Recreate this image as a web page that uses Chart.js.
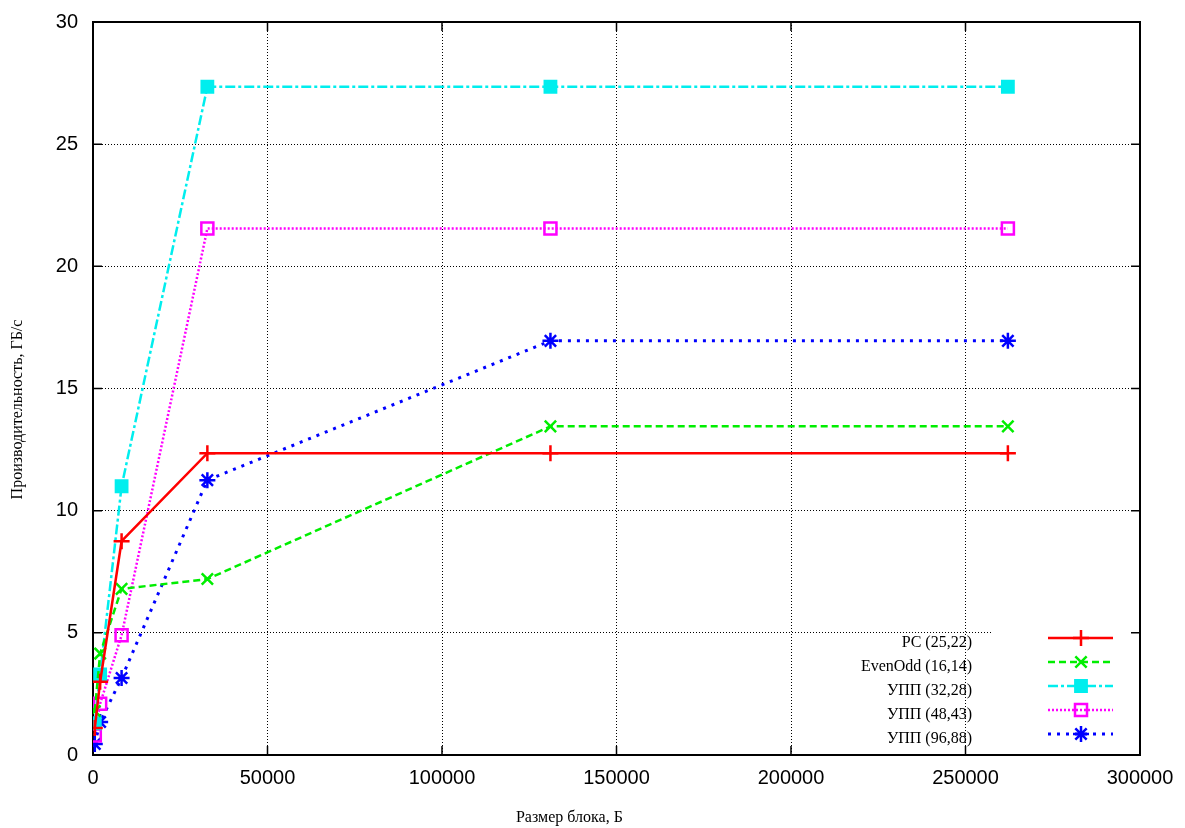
<!DOCTYPE html>
<html lang="ru">
<head>
    <meta charset="UTF-8">
    <title>Производительность</title>
    <style>
        html, body { margin: 0; padding: 0; background: #fff; }
        #wrap { width: 1185px; height: 828px; position: relative; }
    </style>
    <script src="https://cdn.jsdelivr.net/npm/chart.js"></script>
</head>
<body>
<div id="wrap"><canvas id="perfChart"></canvas></div>
<script>
    // block sizes, bytes
    const blockSizes = [512, 2048, 8192, 32768, 131072, 262144];

    // throughput, GB/s
    const rsValues      = [1.1, 3.0, 8.75, 12.35, 12.35, 12.35];
    const evenOddValues = [1.8, 4.15, 6.8, 7.2, 13.45, 13.45];
    const upp32Values   = [1.3, 3.3, 11.0, 27.35, 27.35, 27.35];
    const upp48Values   = [0.8, 2.1, 4.9, 21.55, 21.55, 21.55];
    const upp96Values   = [0.45, 1.35, 3.15, 11.25, 16.95, 16.95];

    const seriesLabels = ['PC (25,22)', 'EvenOdd (16,14)', 'УПП (32,28)', 'УПП (48,43)', 'УПП (96,88)'];

    const xTicks = [0, 50000, 100000, 150000, 200000, 250000, 300000];
    const yTicks = [0, 5, 10, 15, 20, 25, 30];

    const xTitle = 'Размер блока, Б';
    const yTitle = 'Производительность, ГБ/с';

    function toPoints(values) {
        return blockSizes.map((x, i) => ({ x: x, y: values[i] }));
    }

    function series(label, values, color, dash, width, pointStyle, radius, fill) {
        return {
            label: label,
            data: toPoints(values),
            borderColor: color,
            borderWidth: width,
            borderDash: dash,
            pointStyle: pointStyle,
            pointRadius: radius,
            pointBorderColor: color,
            pointBorderWidth: 2.5,
            pointBackgroundColor: fill ? color : 'rgba(0,0,0,0)',
            tension: 0,
            fill: false
        };
    }

    // frame, inward ticks, axis titles and the key (gnuplot style)
    const framePlugin = {
        id: 'frame',
        beforeDatasetsDraw(chart) {
            const ctx = chart.ctx;
            const a = chart.chartArea;
            const xs = chart.scales.x, ys = chart.scales.y;
            ctx.save();
            // blank area behind the key
            ctx.fillStyle = '#fff';
            ctx.fillRect(a.right - 147, a.bottom - 130, 137, 128);
            ctx.strokeStyle = '#000';
            ctx.lineWidth = 1.5;
            ctx.beginPath();
            const tl = 9;
            xTicks.forEach(v => {
                const px = xs.getPixelForValue(v);
                ctx.moveTo(px, a.bottom); ctx.lineTo(px, a.bottom - tl);
                ctx.moveTo(px, a.top); ctx.lineTo(px, a.top + tl);
            });
            yTicks.forEach(v => {
                const py = ys.getPixelForValue(v);
                ctx.moveTo(a.left, py); ctx.lineTo(a.left + tl, py);
                ctx.moveTo(a.right, py); ctx.lineTo(a.right - tl, py);
            });
            ctx.stroke();
            ctx.lineWidth = 2;
            ctx.strokeRect(a.left, a.top, a.right - a.left, a.bottom - a.top);

            // axis titles
            ctx.fillStyle = '#000';
            ctx.font = '16px "Liberation Serif", serif';
            ctx.textAlign = 'center';
            ctx.textBaseline = 'middle';
            ctx.fillText(xTitle, a.left + (a.right - a.left) * 0.455, chart.height - 10);
            ctx.translate(18, (a.top + a.bottom) / 2 + 21);
            ctx.rotate(-Math.PI / 2);
            ctx.fillText(yTitle, 0, 0);
            ctx.restore();
        },
        afterDatasetsDraw(chart) {
            const ctx = chart.ctx;
            const a = chart.chartArea;
            ctx.save();
            ctx.font = '16px "Liberation Serif", serif';
            ctx.fillStyle = '#000';
            ctx.textAlign = 'right';
            ctx.textBaseline = 'middle';
            chart.data.datasets.forEach((ds, i) => {
                const y = a.bottom - 117 + i * 24;
                ctx.fillText(ds.label, a.right - 168, y + 5);
                ctx.save();
                ctx.strokeStyle = ds.borderColor;
                ctx.lineWidth = ds.borderWidth;
                ctx.setLineDash(ds.borderDash || []);
                ctx.beginPath();
                ctx.moveTo(a.right - 92, y);
                ctx.lineTo(a.right - 27, y);
                ctx.stroke();
                ctx.setLineDash([]);
                ctx.strokeStyle = ds.pointBorderColor;
                ctx.fillStyle = ds.pointBackgroundColor;
                ctx.lineWidth = ds.pointBorderWidth;
                Chart.helpers.drawPoint(ctx, {
                    pointStyle: ds.pointStyle,
                    radius: ds.pointRadius,
                    rotation: 0,
                    borderWidth: ds.pointBorderWidth
                }, a.right - 59, y);
                ctx.restore();
            });
            ctx.restore();
        }
    };

    const tickFont = { family: '"Liberation Sans", Arial, sans-serif', size: 20 };

    new Chart(document.getElementById('perfChart'), {
        type: 'line',
        data: {
            datasets: [
                series(seriesLabels[0], rsValues, '#ff0000', [], 2.5, 'cross', 8, false),
                series(seriesLabels[1], evenOddValues, '#00ee00', [7, 4], 2.5, 'crossRot', 8, false),
                series(seriesLabels[2], upp32Values, '#00eeee', [10, 3, 3, 3], 2.5, 'rect', 8, true),
                series(seriesLabels[3], upp48Values, '#ff00ff', [2, 2], 2.5, 'rect', 8.5, false),
                series(seriesLabels[4], upp96Values, '#0000ff', [3, 6], 3, 'star', 8, false)
            ]
        },
        options: {
            responsive: true,
            maintainAspectRatio: false,
            animation: false,
            layout: { padding: { top: 22, right: 45, left: 0, bottom: 0 } },
            plugins: {
                legend: { display: false },
                tooltip: { enabled: false }
            },
            scales: {
                x: {
                    type: 'linear',
                    min: 0,
                    max: 300000,
                    afterFit: s => { s.height = 73; s.paddingLeft = 0; s.paddingRight = 0; },
                    afterBuildTicks: s => { s.ticks = xTicks.map(v => ({ value: v })); },
                    ticks: {
                        font: tickFont,
                        color: '#000',
                        padding: 11,
                        maxRotation: 0,
                        callback: v => String(v)
                    },
                    grid: { color: '#000', lineWidth: 1, drawTicks: false },
                    border: { display: false, dash: [1, 2] },
                    title: { display: false }
                },
                y: {
                    type: 'linear',
                    min: 0,
                    max: 30,
                    afterFit: s => { s.width = 93; s.paddingTop = 0; s.paddingBottom = 0; },
                    afterBuildTicks: s => { s.ticks = yTicks.map(v => ({ value: v })); },
                    ticks: {
                        font: tickFont,
                        color: '#000',
                        padding: 15
                    },
                    grid: { color: '#000', lineWidth: 1, drawTicks: false },
                    border: { display: false, dash: [1, 2] },
                    title: { display: false }
                }
            }
        },
        plugins: [framePlugin]
    });
</script>
</body>
</html>
